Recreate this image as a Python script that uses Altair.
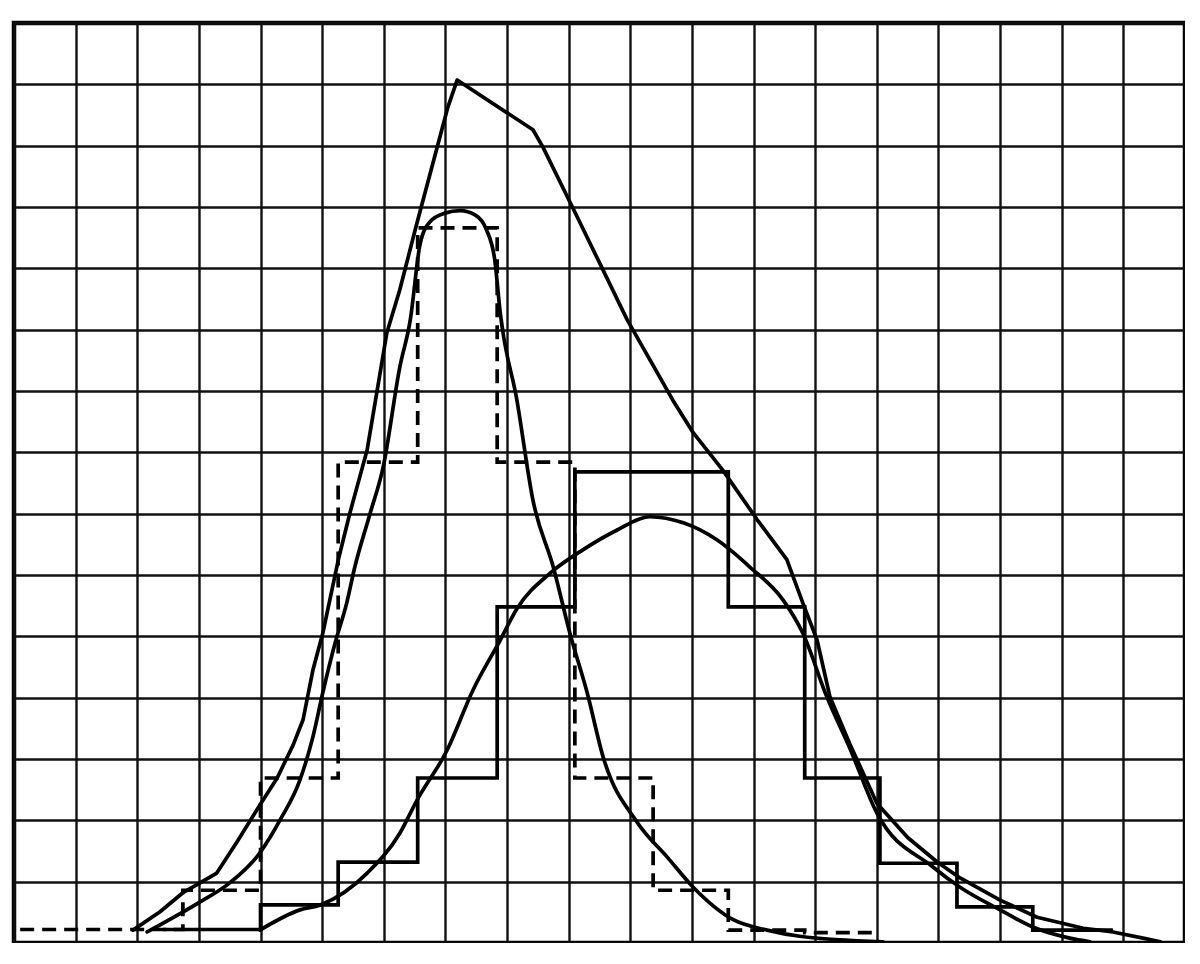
import altair as alt
import pandas as pd

# grid (graph-paper squares)
grid_x = list(range(0, 20))
grid_y = list(range(0, 16))

# total (sum) curve
sum_x = [1.93, 2.37, 2.74, 2.97, 3.29, 3.62, 3.99, 4.27, 4.53, 4.69, 4.85, 5.01, 5.26, 5.45, 5.73,
         6.05, 6.26, 6.52, 7.04, 7.19, 8.42, 8.58, 9.07, 9.95, 10.69, 11.02, 11.50, 12.06, 12.54,
         12.80, 13.03, 13.24, 13.56, 14.00, 14.50, 14.98, 15.35, 16.00, 16.60, 17.35, 17.83, 18.32, 18.60]
sum_y = [0.21, 0.51, 0.82, 0.95, 1.14, 1.65, 2.25, 2.69, 3.23, 3.64, 4.45, 5.05, 6.24, 7.01, 8.04,
         9.95, 10.65, 11.67, 13.63, 14.07, 13.26, 12.98, 11.98, 10.16, 8.85, 8.32, 7.71, 6.90, 6.25,
         5.54, 4.94, 4.01, 3.25, 2.28, 1.72, 1.32, 1.06, 0.70, 0.42, 0.24, 0.18, 0.08, 0.02]

# narrow component curve
narrow_x = [2.16, 3.02, 3.50, 3.99, 4.32, 4.64, 4.85, 5.01, 5.21, 5.40, 5.53, 5.78, 5.99, 6.26, 6.43,
            6.59, 6.75, 6.99, 7.24, 7.48, 7.67, 7.80, 7.89, 8.16, 8.42, 8.75, 9.02, 9.30, 9.56,
            10.11, 10.60, 11.02, 11.67, 12.22, 12.75, 14.10]
narrow_y = [0.18, 0.67, 0.98, 1.47, 2.01, 2.66, 3.36, 4.08, 4.89, 5.55, 6.13, 7.01, 7.76, 9.39, 10.16,
            11.40, 11.76, 11.90, 11.94, 11.87, 11.62, 11.14, 10.27, 8.85, 7.22, 6.13, 5.05, 4.08, 3.03,
            1.97, 1.40, 0.91, 0.38, 0.21, 0.11, 0.02]

# broad component curve
broad_x = [3.99, 4.64, 4.97, 5.73, 6.26, 6.54, 7.03, 7.45, 7.89, 8.16, 8.70, 9.23, 9.78, 10.32, 10.86,
           11.41, 11.94, 12.48, 12.80, 13.19, 13.56, 14.00, 14.91, 15.35, 16.00, 16.53, 17.13, 17.46]
broad_y = [0.21, 0.54, 0.62, 1.14, 1.79, 2.33, 3.15, 4.13, 4.94, 5.45, 6.03, 6.41, 6.73, 6.95, 6.85,
           6.57, 6.13, 5.59, 5.05, 4.01, 3.18, 2.12, 1.24, 0.91, 0.54, 0.26, 0.08, 0.02]

# dashed histogram (narrow component)
dashed_edges = [0.10, 2.74, 4.00, 5.26, 6.55, 7.84, 9.10, 10.37, 11.59, 12.83, 14.02]
dashed_heights = [0.22, 0.86, 2.69, 7.84, 11.66, 7.84, 2.69, 0.86, 0.21, 0.17]

# solid histogram (broad component)
solid_edges = [2.42, 4.00, 5.26, 6.55, 7.84, 9.10, 10.37, 11.59, 12.83, 14.05, 15.30, 16.53, 17.83]
solid_heights = [0.22, 0.62, 1.32, 2.69, 5.48, 7.68, 7.68, 5.48, 2.69, 1.30, 0.59, 0.21]


def curve_df(xs, ys):
    return pd.DataFrame({"x": xs, "y": ys, "i": range(len(xs))})


def step_df(edges, heights):
    ys = list(heights) + [heights[-1]]
    return pd.DataFrame({"x": edges, "y": ys, "i": range(len(edges))})


xscale = alt.Scale(domain=[0, 19], nice=False, zero=False)
yscale = alt.Scale(domain=[0, 15], nice=False, zero=False)

xaxis = alt.Axis(values=grid_x, grid=True, gridColor="#111", gridWidth=2.4, gridOpacity=1,
                 labels=False, ticks=False, domain=False, title=None)
yaxis = alt.Axis(values=grid_y, grid=True, gridColor="#111", gridWidth=2.4, gridOpacity=1,
                 labels=False, ticks=False, domain=False, title=None)

lw = 3.7

sum_line = alt.Chart(curve_df(sum_x, sum_y)).mark_line(
    color="black", strokeWidth=lw, strokeJoin="round", strokeCap="round", interpolate="linear"
).encode(
    x=alt.X("x:Q", scale=xscale, axis=xaxis),
    y=alt.Y("y:Q", scale=yscale, axis=yaxis),
    order="i:Q",
)

narrow_line = alt.Chart(curve_df(narrow_x, narrow_y)).mark_line(
    color="black", strokeWidth=lw, strokeCap="round", interpolate="monotone"
).encode(x=alt.X("x:Q", scale=xscale), y=alt.Y("y:Q", scale=yscale), order="i:Q")

broad_line = alt.Chart(curve_df(broad_x, broad_y)).mark_line(
    color="black", strokeWidth=lw, strokeCap="round", interpolate="monotone"
).encode(x=alt.X("x:Q", scale=xscale), y=alt.Y("y:Q", scale=yscale), order="i:Q")

dashed_hist = alt.Chart(step_df(dashed_edges, dashed_heights)).mark_line(
    color="black", strokeWidth=lw, interpolate="step-after", strokeDash=[14, 8]
).encode(x=alt.X("x:Q", scale=xscale), y=alt.Y("y:Q", scale=yscale), order="i:Q")

solid_hist = alt.Chart(step_df(solid_edges, solid_heights)).mark_line(
    color="black", strokeWidth=lw, interpolate="step-after"
).encode(x=alt.X("x:Q", scale=xscale), y=alt.Y("y:Q", scale=yscale), order="i:Q")

chart = alt.layer(sum_line, narrow_line, broad_line, dashed_hist, solid_hist).properties(
    width=1171,
    height=920,
    autosize=alt.AutoSizeParams(type="none"),
    padding={"left": 6, "top": 15, "right": 0, "bottom": 0},
    background="white",
).configure_view(stroke="black", strokeWidth=4.5)

chart.save("out.html", embed_options={"renderer": "svg", "actions": False})
